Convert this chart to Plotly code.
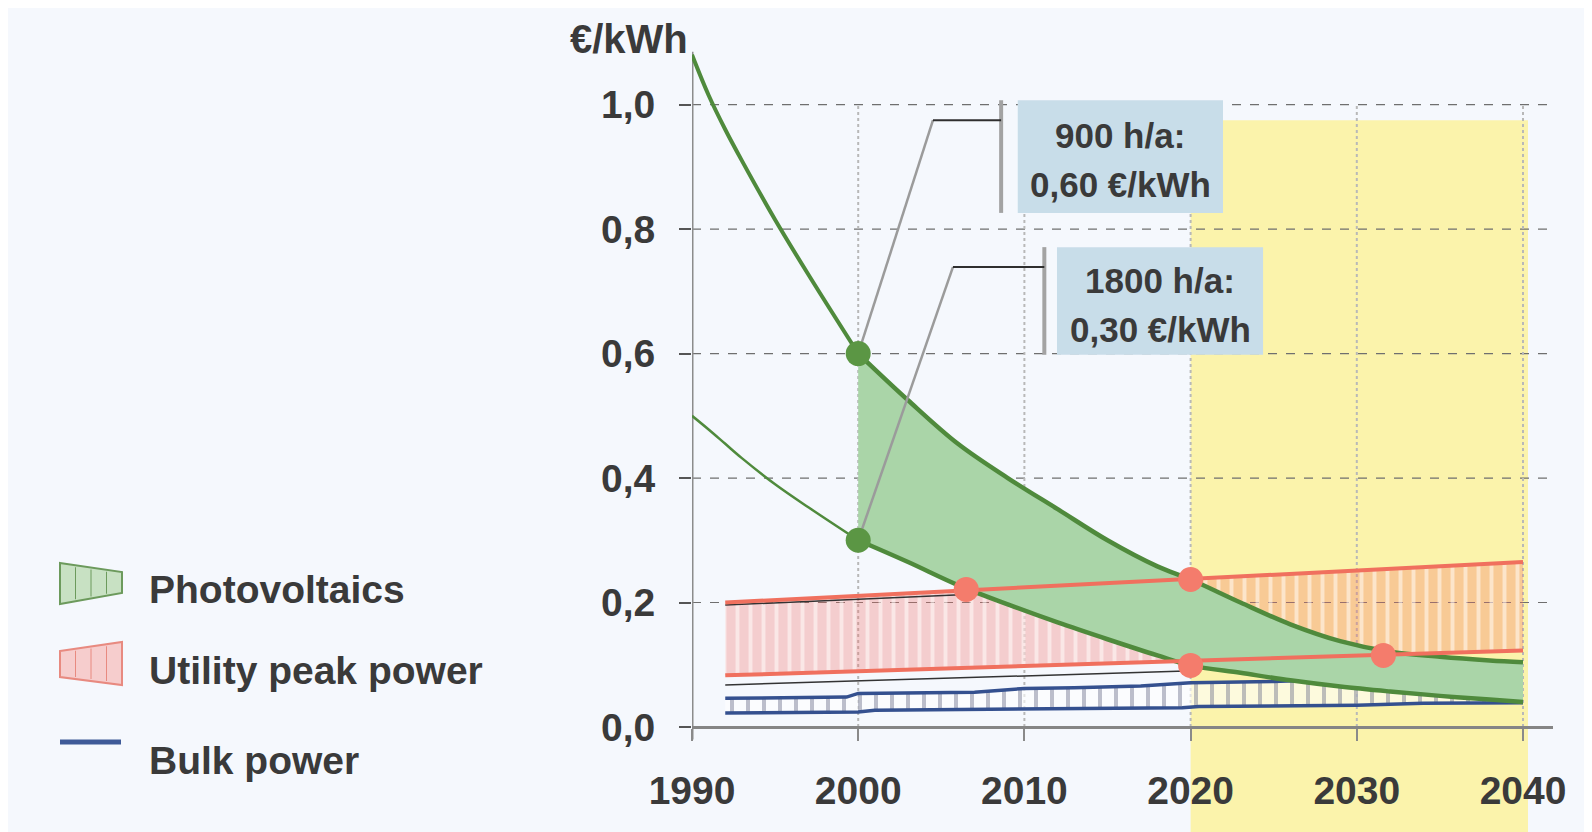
import plotly.graph_objects as go

W, H = 1592, 832
PAGE_MARGIN = 8  # the page body adds this much space before the figure
FIG_W, FIG_H = W - PAGE_MARGIN, H - PAGE_MARGIN

# ---- values (€/kWh) ----
PV_YEARS = [1990, 1991, 1992, 1993, 1995, 1997, 2000, 2003, 2006, 2009, 2012,
            2015, 2018, 2020, 2023, 2026, 2029, 2032, 2035, 2038, 2040]
PV_900_HA = [1.08, 1.015, 0.96, 0.91, 0.815, 0.727, 0.60, 0.525, 0.455, 0.40, 0.35,
             0.30, 0.258, 0.237, 0.20, 0.165, 0.138, 0.121, 0.113, 0.107, 0.104]
PV_1800_HA = [0.50, 0.478, 0.455, 0.432, 0.39, 0.353, 0.30, 0.265, 0.228, 0.197, 0.168,
              0.141, 0.115, 0.099, 0.087, 0.075, 0.065, 0.057, 0.050, 0.044, 0.040]
PV_MARK_YEAR = 2000
PV_MARK_VALUES = [0.60, 0.30]

PEAK_YEARS = [1992, 2040]
PEAK_HIGH = [0.200, 0.265]
PEAK_LOW = [0.083, 0.123]
PEAK_EDGE_HIGH_YEARS = [1992, 2006.5]
PEAK_EDGE_HIGH = [0.196, 0.213]
PEAK_EDGE_LOW_YEARS = [1992, 2019.7]
PEAK_EDGE_LOW = [0.0675, 0.090]

CROSS_YEARS = [2006.5, 2020, 2020, 2031.6]
CROSS_VALUES = [0.221, 0.237, 0.099, 0.115]

BULK_HIGH_YEARS = [1992, 1999.3, 2000, 2007, 2010, 2013, 2017, 2020, 2025, 2030, 2040]
BULK_HIGH = [0.046, 0.048, 0.054, 0.056, 0.062, 0.063, 0.066, 0.071, 0.073, 0.078, 0.085]
BULK_LOW_YEARS = [1992, 2000, 2001, 2010, 2013, 2019.5, 2020.5, 2030, 2034, 2040]
BULK_LOW = [0.0225, 0.024, 0.027, 0.029, 0.0305, 0.031, 0.033, 0.035, 0.038, 0.039]

FORECAST_START, FORECAST_END = 2020, 2040

X_TICKS = [1990, 2000, 2010, 2020, 2030, 2040]
X_TICK_LABELS = ["1990", "2000", "2010", "2020", "2030", "2040"]
Y_TICKS = [0.0, 0.2, 0.4, 0.6, 0.8, 1.0]
Y_TICK_LABELS = ["0,0", "0,2", "0,4", "0,6", "0,8", "1,0"]

NOTE_900 = ["900 h/a:", "0,60 €/kWh"]
NOTE_1800 = ["1800 h/a:", "0,30 €/kWh"]
LEGEND_LABELS = ["Photovoltaics", "Utility peak power", "Bulk power"]

# ---- layout geometry (pixels of the 1592x832 page) ----
AXIS_LEFT_PX, AXIS_RIGHT_PX = 692, 1553
ZERO_PX, PX_PER_UNIT = 727, 622.4
PX_PER_YEAR = 16.62
X_RANGE = [1990, 1990 + (AXIS_RIGHT_PX - AXIS_LEFT_PX) / PX_PER_YEAR]
Y_RANGE = [-(H - ZERO_PX) / PX_PER_UNIT, (ZERO_PX - PAGE_MARGIN) / PX_PER_UNIT]

FONT = "Liberation Sans, Arial, sans-serif"
TEXT = "#3a3a3a"
GREEN = "#4f8a3c"
GREEN_FILL = "rgb(170,213,168)"
RED = "#f0705e"
BLUE = "#34508f"
YELLOW = "#fbf3ab"
NOTE_BG = "#c8dde9"


def pxx(x):
    return (x - PAGE_MARGIN) / FIG_W


def pxy(y):
    return 1 - (y - PAGE_MARGIN) / FIG_H


fig = go.Figure()

# utility peak power band (hatched)
fig.add_trace(go.Scatter(x=PEAK_YEARS, y=PEAK_LOW, mode="lines", line=dict(width=0)))
fig.add_trace(go.Scatter(
    x=PEAK_YEARS, y=PEAK_HIGH, mode="lines", line=dict(width=0), fill="tonexty",
    fillpattern=dict(shape="|", bgcolor="rgba(242,110,100,0.31)",
                     fgcolor="rgba(255,255,255,0.5)", size=13, solidity=0.3),
))
fig.add_trace(go.Scatter(x=PEAK_EDGE_HIGH_YEARS, y=PEAK_EDGE_HIGH, mode="lines",
                         line=dict(color="#333", width=1.5)))
fig.add_trace(go.Scatter(x=PEAK_EDGE_LOW_YEARS, y=PEAK_EDGE_LOW, mode="lines",
                         line=dict(color="#333", width=1.5)))

# bulk power band
fig.add_trace(go.Scatter(x=BULK_LOW_YEARS, y=BULK_LOW, mode="lines",
                         line=dict(color=BLUE, width=3.5)))
fig.add_trace(go.Scatter(
    x=BULK_HIGH_YEARS, y=BULK_HIGH, mode="lines", line=dict(color=BLUE, width=3.5),
    fill="tonexty",
    fillpattern=dict(shape="|", bgcolor="rgba(255,255,255,0.6)",
                     fgcolor="rgba(110,115,140,0.45)", size=16, solidity=0.25),
))

# photovoltaics band from 2000 on
post = [i for i, yr in enumerate(PV_YEARS) if yr >= PV_MARK_YEAR]
pre = [i for i, yr in enumerate(PV_YEARS) if yr <= PV_MARK_YEAR]
fig.add_trace(go.Scatter(x=[PV_YEARS[i] for i in post], y=[PV_1800_HA[i] for i in post],
                         mode="lines", line=dict(width=0, shape="spline")))
fig.add_trace(go.Scatter(x=[PV_YEARS[i] for i in post], y=[PV_900_HA[i] for i in post],
                         mode="lines", line=dict(width=0, shape="spline"),
                         fill="tonexty", fillcolor=GREEN_FILL))

for series, pre_width in ((PV_900_HA, 4), (PV_1800_HA, 2.5)):
    fig.add_trace(go.Scatter(x=[PV_YEARS[i] for i in pre], y=[series[i] for i in pre],
                             mode="lines", line=dict(color=GREEN, width=pre_width, shape="spline")))
    fig.add_trace(go.Scatter(x=[PV_YEARS[i] for i in post], y=[series[i] for i in post],
                             mode="lines", line=dict(color=GREEN, width=4.5, shape="spline")))

# utility peak power lines
fig.add_trace(go.Scatter(x=PEAK_YEARS, y=PEAK_HIGH, mode="lines", line=dict(color=RED, width=4)))
fig.add_trace(go.Scatter(x=PEAK_YEARS, y=PEAK_LOW, mode="lines", line=dict(color=RED, width=4)))

# callouts: leader lines, bars, boxes
NOTES = [
    dict(value=PV_MARK_VALUES[0], kink=(2004.5, 0.975), bar=2008.6,
         box=(2009.6, 2021.95, 0.826, 1.007), lines=NOTE_900, ys=(0.951, 0.871)),
    dict(value=PV_MARK_VALUES[1], kink=(2005.7, 0.739), bar=2011.2,
         box=(2011.96, 2024.36, 0.598, 0.771), lines=NOTE_1800, ys=(0.717, 0.638)),
]
for n in NOTES:
    kx, ky = n["kink"]
    fig.add_trace(go.Scatter(x=[PV_MARK_YEAR, kx], y=[n["value"], ky], mode="lines",
                             line=dict(color="#9b9b9b", width=2.5)))
    fig.add_trace(go.Scatter(x=[kx, n["bar"]], y=[ky, ky], mode="lines",
                             line=dict(color="#2f2f2f", width=2)))

# markers
fig.add_trace(go.Scatter(x=[PV_MARK_YEAR] * len(PV_MARK_VALUES), y=PV_MARK_VALUES,
                         mode="markers", marker=dict(color="#5b9644", size=25)))
fig.add_trace(go.Scatter(x=CROSS_YEARS, y=CROSS_VALUES, mode="markers",
                         marker=dict(color="#f47c6c", size=25)))

# background shapes: forecast area, grid, axis line
fig.add_shape(type="rect", xref="x", yref="y", x0=FORECAST_START, x1=FORECAST_END + 0.3,
              y0=Y_RANGE[0], y1=0.975, fillcolor=YELLOW, line_width=0, layer="below")
for v in Y_TICKS[1:]:
    fig.add_shape(type="line", xref="x", yref="y", x0=X_RANGE[0], x1=X_RANGE[1], y0=v, y1=v,
                  line=dict(color="#6f6f6f", width=1.2, dash="dash"), layer="below")
for v in X_TICKS[1:]:
    fig.add_shape(type="line", xref="x", yref="y", x0=v, x1=v, y0=0, y1=Y_TICKS[-1],
                  line=dict(color="#b8b8b8", width=2, dash="dot"), layer="below")
fig.add_shape(type="line", xref="x", yref="y", x0=X_RANGE[0], x1=X_RANGE[0], y0=-0.02, y1=1.085,
              line=dict(color="#8c8c8c", width=3), layer="below")

for n in NOTES:
    x0, x1, y0, y1 = n["box"]
    fig.add_shape(type="rect", xref="x", yref="y", x0=x0, x1=x1, y0=y0, y1=y1,
                  fillcolor=NOTE_BG, line_width=0, layer="below")
    fig.add_shape(type="line", xref="x", yref="y", x0=n["bar"], x1=n["bar"], y0=y0, y1=y1,
                  line=dict(color="#a3a3a3", width=4), layer="below")
    for txt, yy in zip(n["lines"], n["ys"]):
        fig.add_annotation(x=(x0 + x1) / 2, y=yy, xref="x", yref="y", text=txt, showarrow=False,
                           font=dict(family=FONT, size=35, color=TEXT, weight="bold"))

# unit label
fig.add_annotation(x=pxx(690), y=pxy(39), xref="paper", yref="paper", text="€/kWh",
                   showarrow=False, xanchor="right", yanchor="middle",
                   font=dict(family=FONT, size=40, color=TEXT, weight="bold"))


# hand-drawn legend
def trapezoid(x0, x1, top0, top1, bot0, bot1, fill, edge):
    path = (f"M {pxx(x0)},{pxy(top0)} L {pxx(x1)},{pxy(top1)} "
            f"L {pxx(x1)},{pxy(bot1)} L {pxx(x0)},{pxy(bot0)} Z")
    fig.add_shape(type="path", xref="paper", yref="paper", path=path,
                  fillcolor=fill, line=dict(color=edge, width=2))
    for frac in (0.25, 0.5, 0.75):
        xs = x0 + (x1 - x0) * frac
        t = top0 + (top1 - top0) * frac
        b = bot0 + (bot1 - bot0) * frac
        fig.add_shape(type="line", xref="paper", yref="paper", x0=pxx(xs), x1=pxx(xs),
                      y0=pxy(t + 2), y1=pxy(b - 2), line=dict(color=edge, width=1))


trapezoid(60, 122, 563, 572, 604, 593, "rgb(200,225,195)", "#6c9a5c")
trapezoid(60, 122, 651, 642, 677, 685, "rgb(246,205,205)", "#e88a80")
fig.add_shape(type="line", xref="paper", yref="paper", x0=pxx(60), x1=pxx(121),
              y0=pxy(742), y1=pxy(742), line=dict(color="#3f5a98", width=5))
for label, yc in zip(LEGEND_LABELS, (589, 670, 760)):
    fig.add_annotation(x=pxx(147), y=pxy(yc), xref="paper", yref="paper", text=label,
                       showarrow=False, xanchor="left", yanchor="middle",
                       font=dict(family=FONT, size=39, color=TEXT, weight="bold"))

axis_font = dict(family=FONT, size=39, color=TEXT, weight="bold")
fig.update_layout(
    template="none",
    width=FIG_W,
    height=FIG_H,
    showlegend=False,
    paper_bgcolor="#f5f8fd",
    plot_bgcolor="rgba(0,0,0,0)",
    margin=dict(l=0, r=0, t=0, b=0),
    xaxis=dict(
        domain=[pxx(AXIS_LEFT_PX), pxx(AXIS_RIGHT_PX)],
        range=X_RANGE,
        anchor="free",
        position=(0 - Y_RANGE[0]) / (Y_RANGE[1] - Y_RANGE[0]),
        tickvals=X_TICKS,
        ticktext=X_TICK_LABELS,
        tickfont=axis_font,
        ticks="outside",
        ticklen=12,
        tickwidth=2,
        tickcolor="#8a8a8a",
        ticklabelstandoff=16,
        showline=True,
        linecolor="#858585",
        linewidth=3,
        showgrid=False,
        zeroline=False,
        automargin=False,
    ),
    yaxis=dict(
        domain=[0, 1],
        range=Y_RANGE,
        tickvals=Y_TICKS,
        ticktext=Y_TICK_LABELS,
        tickfont=axis_font,
        ticks="outside",
        ticklen=12,
        tickwidth=2,
        tickcolor="#555555",
        ticklabelstandoff=16,
        showline=False,
        showgrid=False,
        zeroline=False,
        automargin=False,
    ),
)

fig.write_html("out.html")
